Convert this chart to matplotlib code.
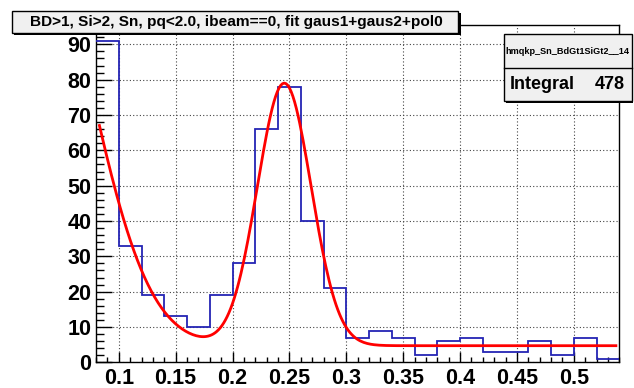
import numpy as np
import matplotlib
matplotlib.use("Agg")
import matplotlib.pyplot as plt
from matplotlib.patches import Rectangle
from matplotlib.ticker import MultipleLocator, FixedLocator

# ---- data ----
bin_edges = [round(0.08 + 0.02 * i, 2) for i in range(24)]
counts = [91, 33, 19, 13, 10, 19, 28, 66, 78, 40, 21, 7, 9, 7, 2, 6, 7, 3, 3, 6, 2, 7, 1]
x_ticks = [0.1, 0.15, 0.2, 0.25, 0.3, 0.35, 0.4, 0.45, 0.5]
x_tick_labels = ["0.1", "0.15", "0.2", "0.25", "0.3", "0.35", "0.4", "0.45", "0.5"]
y_ticks = [0, 10, 20, 30, 40, 50, 60, 70, 80, 90]
y_tick_labels = ["0", "10", "20", "30", "40", "50", "60", "70", "80", "90"]
title = "BD>1, Si>2, Sn, pq<2.0, ibeam==0, fit gaus1+gaus2+pol0"
stats_name = "hmqkp_Sn_BdGt1SiGt2__14"
stats_label = "Integral"
stats_value = "478"

# fit parameters: gaus1 + gaus2 + pol0
g1_amp, g1_mean, g1_sigma = 121.0, 0.0231, 0.052
g2_amp, g2_mean, g2_sigma = 74.3, 0.2455, 0.0236
pol0 = 4.7
fit_range = (0.083, 0.537)

W, H = 634, 388
FONT = "Liberation Sans"

fig = plt.figure(figsize=(W / 100, H / 100), dpi=100)
fig.patch.set_facecolor("white")

L, R, T, B = 96, 619.3, 24.7, 362.3
ax = fig.add_axes([L / W, 1 - B / H, (R - L) / W, (B - T) / H])

ax.stairs(counts, bin_edges, color="#2424b4", lw=1.3, baseline=None, zorder=3)

xf = np.linspace(fit_range[0], fit_range[1], 300)
yf = (g1_amp * np.exp(-0.5 * ((xf - g1_mean) / g1_sigma) ** 2)
      + g2_amp * np.exp(-0.5 * ((xf - g2_mean) / g2_sigma) ** 2) + pol0)
ax.plot(xf, yf, color="#ff0000", lw=2.0, zorder=4, solid_joinstyle="round")

ax.set_xlim(bin_edges[0], bin_edges[-1])
ax.set_ylim(0, 1.05 * max(counts))

ax.xaxis.set_major_locator(FixedLocator(x_ticks))
ax.set_xticklabels(x_tick_labels)
ax.yaxis.set_major_locator(FixedLocator(y_ticks))
ax.set_yticklabels(y_tick_labels)
ax.xaxis.set_minor_locator(MultipleLocator(0.01))
ax.yaxis.set_minor_locator(MultipleLocator(2))

ax.tick_params(axis="x", which="major", direction="in", length=7.3, width=1.0, pad=4)
ax.tick_params(axis="x", which="minor", direction="in", length=3.6, width=1.0)
ax.tick_params(axis="y", which="major", direction="in", length=11.3, width=1.0, pad=3.5)
ax.tick_params(axis="y", which="minor", direction="in", length=5.6, width=1.0)
ax.tick_params(top=False, right=False, which="both")
for lab in ax.get_xticklabels() + ax.get_yticklabels():
    lab.set_fontfamily(FONT)
    lab.set_fontweight("bold")
    lab.set_fontsize(15.5)

ax.grid(True, which="major", color="#444444", lw=0.8, linestyle=(0, (1, 2)))
ax.set_axisbelow(True)
for s in ax.spines.values():
    s.set_linewidth(1.0)
    s.set_color("black")

def fx(x):
    return x / W

def fy(y):
    return 1 - y / H

def box(x0, y0, x1, y1, shadow=2.5):
    fig.patches.append(Rectangle((fx(x0 + shadow), fy(y1 + shadow)), (x1 - x0) / W, (y1 - y0) / H,
                                 transform=fig.transFigure, facecolor="black", edgecolor="black",
                                 lw=0, zorder=9))
    fig.patches.append(Rectangle((fx(x0), fy(y1)), (x1 - x0) / W, (y1 - y0) / H,
                                 transform=fig.transFigure, facecolor="#f0f0f0", edgecolor="black",
                                 lw=1.0, zorder=10))

# title box
box(11.7, 10.7, 458, 32.5)
fig.text(fx(236), fy(21.8), title, ha="center", va="center", fontsize=11.1,
         fontweight="bold", family=FONT, zorder=11)

# stats box
box(504, 34, 631.5, 101, shadow=1.5)
fig.lines.append(plt.Line2D([fx(504), fx(631.5)], [fy(67.7), fy(67.7)],
                            transform=fig.transFigure, color="black", lw=1.0, zorder=11))
fig.text(fx(567.5), fy(51), stats_name, ha="center", va="center", fontsize=6.6,
         fontweight="bold", family=FONT, zorder=11)
fig.text(fx(510), fy(84.5), stats_label, ha="left", va="center", fontsize=13,
         fontweight="bold", family=FONT, zorder=11)
fig.text(fx(625), fy(84.5), stats_value, ha="right", va="center", fontsize=13,
         fontweight="bold", family=FONT, zorder=11)

fig.savefig("out.png", dpi=100)
